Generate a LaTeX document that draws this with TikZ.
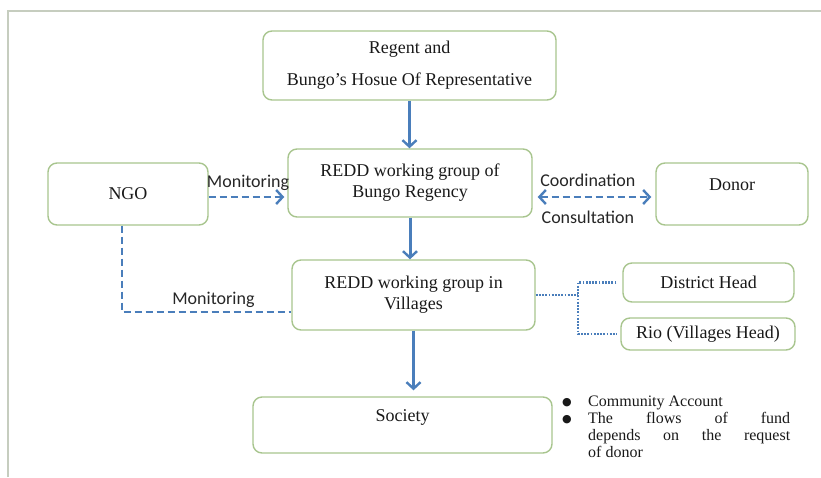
\documentclass[tikz,border=0pt]{standalone}
\usepackage{fontspec}
\setmainfont{Liberation Serif}
\newfontfamily\labelfont{Carlito}
\newfontfamily\dotfont{DejaVu Sans}
\usetikzlibrary{positioning, arrows.meta}

\definecolor{boxgreen}{HTML}{A8C58E}
\definecolor{flowblue}{HTML}{4A7EBB}
\definecolor{framegray}{HTML}{C6CDBF}

% bullet hung into the left margin of the notes
\newcommand{\notedot}{\noindent\llap{\makebox[27pt][l]{\hspace{1pt}\raisebox{1pt}{\dotfont\fontsize{11}{11}\selectfont ●}}}}

\begin{document}
\begin{tikzpicture}[x=1pt, y=-1pt,
    block/.style={draw=boxgreen, line width=1.4pt, rounded corners=9pt, align=center, text=black!90, font=\fontsize{18}{21}\selectfont},
    barb/.tip={Straight Barb[length=6.5pt, width=14pt, line width=2.4pt]},
    feed/.style={draw=flowblue, line width=3pt, -barb},
    watch/.style={draw=flowblue, line width=2.3pt, dash pattern=on 7pt off 4pt},
    tie/.style={draw=flowblue, line width=2.2pt, dash pattern=on 1.8pt off 1.4pt},
    tag/.style={text=black!85, font=\labelfont\fontsize{18}{21}\selectfont}]
    \useasboundingbox (0,0) rectangle (821,477);
    \draw [framegray, line width=2.5pt] (8,477) -- (8,11) -- (821,11);

    \node (regent) [block, minimum width=293pt, minimum height=69pt] at (409.5,65.5) {Regent and\\[11pt]Bungo's Hosue Of Representative};
    \node (bungo) [block, minimum width=244pt, minimum height=68pt] at (410,183) {REDD working group of\\Bungo Regency};
    \node (ngo) [block, minimum width=160pt, minimum height=62pt] at (128,194) {NGO};
    \node (donor) [block, minimum width=152pt, minimum height=62pt] at (732,194) {Donor\\[-3pt]\mbox{}};
    \node (villages) [block, minimum width=243pt, minimum height=70pt] at (413.5,295) {REDD working group in\\Villages};
    \node (district) [block, minimum width=171pt, minimum height=39pt] at (708.5,282.5) {District Head};
    \node (rio) [block, minimum width=174pt, minimum height=32pt] at (708,334) {Rio (Villages Head)};
    \node (society) [block, minimum width=299pt, minimum height=56pt] at (402.5,425) {Society\\[-3pt]\mbox{}};

    \node (notes) [anchor=north west, inner sep=0pt, text width=229pt, align=justify, text=black!90, font=\fontsize{16}{17}\selectfont] at (561,396) {%
        \leftskip=27pt
        \notedot Community Account\par
        \notedot The flows of fund\linebreak depends on the request\linebreak of donor\par};

    \draw [feed] (regent.south) -- (regent.south |- bungo.north);
    \draw [feed] (bungo.south) -- (bungo.south |- villages.north);
    \draw [feed, shorten >=6pt] (villages.south) -- (villages.south |- society.north);

    \coordinate (ngoout) at ([yshift=-3pt]ngo.east);
    \coordinate (donorin) at ([yshift=-3pt]donor.west);
    \draw [watch, -barb, shorten >=3pt] (ngoout) -- (ngoout -| bungo.west) node [tag, midway, above=2pt] {Monitoring};
    \draw [watch, barb-barb, shorten <=5pt, shorten >=4pt] (donorin -| bungo.east) -- (donorin)
        node [tag, pos=0.45, above=6pt] {Coordination}
        node [tag, pos=0.45, below=10pt] {Consultation};

    \coordinate (vilin) at ([yshift=-17pt]villages.west);
    \draw [watch] ([xshift=-6pt]ngo.south) |- (vilin) node [tag, pos=0.77, above=0pt] {Monitoring};

    \coordinate (split) at (578,295);
    \draw [tie] (villages.east) -- (split);
    \draw [tie, shorten <=6pt, shorten >=4pt] (district.west) -| (split) |- (rio.west);
\end{tikzpicture}
\end{document}
